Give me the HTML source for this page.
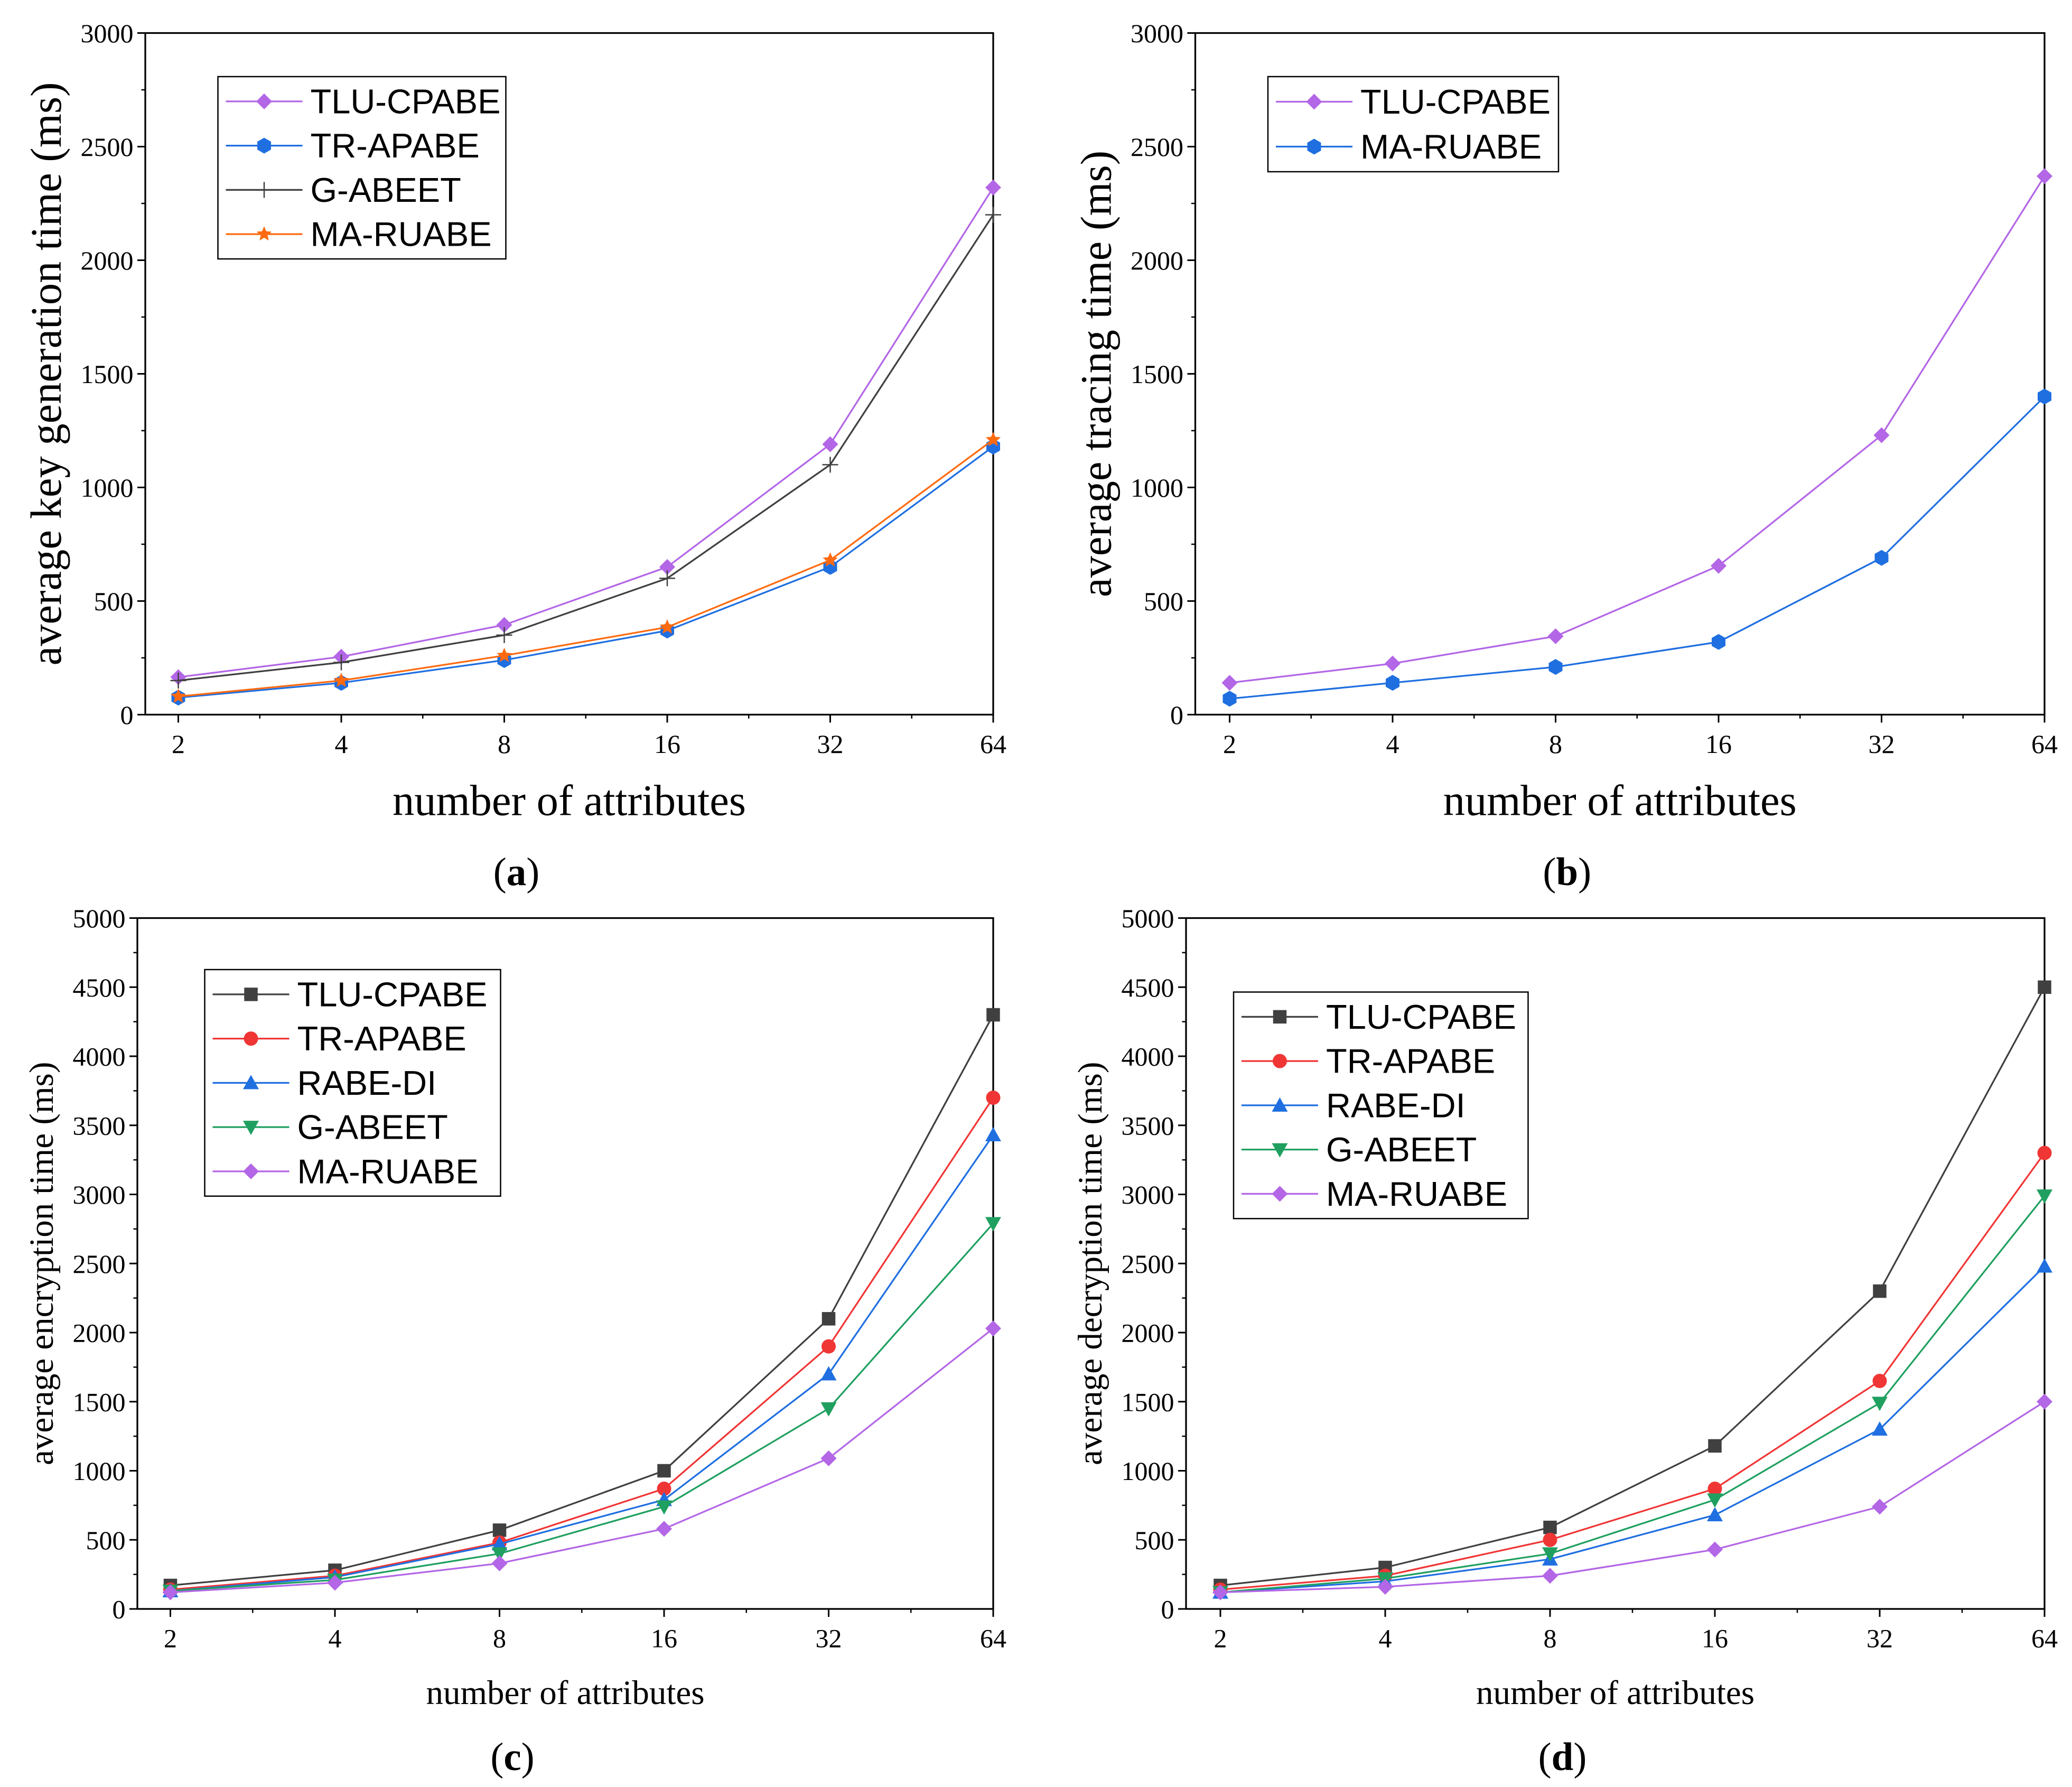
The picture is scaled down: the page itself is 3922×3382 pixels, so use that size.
<!DOCTYPE html>
<html><head><meta charset="utf-8"><style>
html,body{margin:0;padding:0;background:#fff}
svg{display:block;font-family:"Liberation Serif",serif}
</style></head><body>
<svg id="fig" width="3922" height="3382" viewBox="0 0 1568.8 1352.8" xmlns="http://www.w3.org/2000/svg"></svg>
<script>
const categories=["2","4","8","16","32","64"];
const ticksAB=[0,500,1000,1500,2000,2500,3000];
const ticksCD=[0,500,1000,1500,2000,2500,3000,3500,4000,4500,5000];
const aTLU=[165,255,395,650,1190,2320];
const aTR=[75,140,240,370,650,1180];
const aG=[150,230,350,600,1100,2200];
const aMA=[80,150,260,385,680,1210];
const bTLU=[140,225,345,655,1230,2370];
const bMA=[70,140,210,320,690,1400];
const cTLU=[170,280,570,1000,2100,4300];
const cTR=[140,240,480,870,1900,3700];
const cRABE=[130,230,470,790,1700,3430];
const cG=[130,210,400,740,1450,2790];
const cMA=[120,190,330,580,1090,2030];
const dTLU=[170,300,590,1180,2300,4500];
const dTR=[140,240,500,870,1650,3300];
const dRABE=[120,200,360,680,1300,2480];
const dG=[120,220,400,790,1490,2990];
const dMA=[120,160,240,430,740,1500];

const NS="http://www.w3.org/2000/svg";
const svg=document.getElementById('fig');
function mk(t,a,p){const e=document.createElementNS(NS,t);for(const k in a)e.setAttribute(k,a[k]);(p||svg).appendChild(e);return e;}
function marker(g,type,x,y,c,s){
  s=s||6;let e;
  if(type==='diamond')e=mk('polygon',{points:`${x},${y-s} ${x+s},${y} ${x},${y+s} ${x-s},${y}`,fill:c},g);
  else if(type==='hex')e=mk('polygon',{points:[0,1,2,3,4,5].map(i=>{const a=Math.PI/3*i+Math.PI/6;return (x+s*Math.cos(a))+','+(y+s*Math.sin(a))}).join(' '),fill:c},g);
  else if(type==='plus'){e=mk('path',{d:`M${x-s} ${y}H${x+s}M${x} ${y-s}V${y+s}`,stroke:c,'stroke-width':1},g);}
  else if(type==='star'){const p=[];for(let i=0;i<10;i++){const r=i%2?s*0.45:s,a=-Math.PI/2+i*Math.PI/5;p.push((x+r*Math.cos(a))+','+(y+r*Math.sin(a)));}e=mk('polygon',{points:p.join(' '),fill:c},g);}
  else if(type==='square')e=mk('rect',{x:x-s*0.85,y:y-s*0.85,width:s*1.7,height:s*1.7,fill:c},g);
  else if(type==='circle')e=mk('circle',{cx:x,cy:y,r:s*0.9,fill:c},g);
  else if(type==='tri')e=mk('polygon',{points:`${x},${y-s} ${x+s},${y+s*0.8} ${x-s},${y+s*0.8}`,fill:c},g);
  else if(type==='itri')e=mk('polygon',{points:`${x},${y+s} ${x+s},${y-s*0.8} ${x-s},${y-s*0.8}`,fill:c},g);
  
  
}
function panel(p){
  const g=mk('g',{});
  
  
  const ymax=p.ticks[p.ticks.length-1];
  const X=i=>p.x0+(p.x1-p.x0)*i/(categories.length-1);
  const Y=v=>p.by-(p.by-p.ty)*v/ymax;
  const box=mk('rect',{x:p.l,y:p.ty,width:p.r-p.l,height:p.by-p.ty,fill:'none',stroke:'#000','stroke-width':1.3},g);
  
  p.ticks.forEach((t,i)=>{
    mk('line',{x1:p.l-6,x2:p.l,y1:Y(t),y2:Y(t),stroke:'#000','stroke-width':1.2},g);
    if(i<p.ticks.length-1)mk('line',{x1:p.l-3,x2:p.l,y1:Y(t+(p.ticks[1]-p.ticks[0])/2),y2:Y(t+(p.ticks[1]-p.ticks[0])/2),stroke:'#000','stroke-width':1},g);
    const tx=mk('text',{x:p.l-9,y:Y(t)+7,'text-anchor':'end','font-size':20},g);tx.textContent=t;
    
  });
  categories.forEach((c,i)=>{
    mk('line',{x1:X(i),x2:X(i),y1:p.by,y2:p.by+6,stroke:'#000','stroke-width':1.2},g);
    if(i<categories.length-1)mk('line',{x1:(X(i)+X(i+1))/2,x2:(X(i)+X(i+1))/2,y1:p.by,y2:p.by+3,stroke:'#000','stroke-width':1},g);
    const tx=mk('text',{x:X(i),y:p.by+29,'text-anchor':'middle','font-size':20},g);tx.textContent=c;
    
  });
  const xt=mk('text',{x:(p.l+p.r)/2,y:p.by+p.xlo,'text-anchor':'middle','font-size':p.fs},g);xt.textContent='number of attributes';
  
  const cy=(p.ty+p.by)/2;
  const yt=mk('text',{x:p.ylx,y:cy,'text-anchor':'middle','font-size':p.fs,transform:`rotate(-90 ${p.ylx} ${cy})`},g);yt.textContent=p.ylabel;
  
  const cap=mk('text',{x:(p.l+p.r)/2-40,y:p.capy,'text-anchor':'middle','font-size':30},g);
  cap.innerHTML=`(<tspan font-weight="bold">${p.id}</tspan>)`;
  
  p.series.forEach(s=>{
    const sg=mk('g',{},g);
    
    
    mk('polyline',{points:s.data.map((v,i)=>X(i)+','+Y(v)).join(' '),fill:'none',stroke:s.c,'stroke-width':1.3},sg);
    s.data.forEach((v,i)=>marker(sg,s.m,X(i),Y(v),s.c));
  });
  const L=p.leg;
  const lb=mk('rect',{x:L.x,y:L.y,width:L.w,height:L.h*p.series.length+4,fill:'#fff',stroke:'#000','stroke-width':1},g);
  
  p.series.forEach((s,i)=>{
    const yy=L.y+2+L.h*(i+0.5);
    mk('line',{x1:L.x+6,x2:L.x+64,y1:yy,y2:yy,stroke:s.c,'stroke-width':1.3},g);
    marker(g,s.m,L.x+35,yy,s.c);
    const t=mk('text',{x:L.x+70,y:yy+9,'font-size':L.fs,'font-family':'"Liberation Sans",sans-serif'},g);t.textContent=s.name;
    
  });
}
const PU='#b366e6',BL='#1f6fe0',GR='#404040',OR='#ff6a10',RD='#f03535',GN='#20a060';
panel({id:'a',l:110,r:752,ty:25,by:541,x0:135,x1:752,ticks:ticksAB,fs:33,xlo:76,ylx:46,capy:670,ylabel:'average key generation time (ms)',
  leg:{x:165,y:58,w:218,h:33.5,fs:26},
  series:[{name:'TLU-CPABE',data:aTLU,c:PU,m:'diamond'},{name:'TR-APABE',data:aTR,c:BL,m:'hex'},{name:'G-ABEET',data:aG,c:GR,m:'plus'},{name:'MA-RUABE',data:aMA,c:OR,m:'star'}]});
panel({id:'b',l:905,r:1548,ty:25,by:541,x0:931,x1:1548,ticks:ticksAB,fs:33,xlo:76,ylx:841,capy:670,ylabel:'average tracing time (ms)',
  leg:{x:960,y:58,w:220,h:34,fs:26},
  series:[{name:'TLU-CPABE',data:bTLU,c:PU,m:'diamond'},{name:'MA-RUABE',data:bMA,c:BL,m:'hex'}]});
panel({id:'c',l:104,r:752,ty:695,by:1218,x0:129,x1:752,ticks:ticksCD,fs:26,xlo:72,ylx:40,capy:1340,ylabel:'average encryption time (ms)',
  leg:{x:155,y:734,w:224,h:33.5,fs:26},
  series:[{name:'TLU-CPABE',data:cTLU,c:GR,m:'square'},{name:'TR-APABE',data:cTR,c:RD,m:'circle'},{name:'RABE-DI',data:cRABE,c:BL,m:'tri'},{name:'G-ABEET',data:cG,c:GN,m:'itri'},{name:'MA-RUABE',data:cMA,c:PU,m:'diamond'}]});
panel({id:'d',l:898,r:1548,ty:695,by:1218,x0:924,x1:1548,ticks:ticksCD,fs:26,xlo:72,ylx:834,capy:1340,ylabel:'average decryption time (ms)',
  leg:{x:934,y:751,w:223,h:33.5,fs:26},
  series:[{name:'TLU-CPABE',data:dTLU,c:GR,m:'square'},{name:'TR-APABE',data:dTR,c:RD,m:'circle'},{name:'RABE-DI',data:dRABE,c:BL,m:'tri'},{name:'G-ABEET',data:dG,c:GN,m:'itri'},{name:'MA-RUABE',data:dMA,c:PU,m:'diamond'}]});
</script>
</body></html>
